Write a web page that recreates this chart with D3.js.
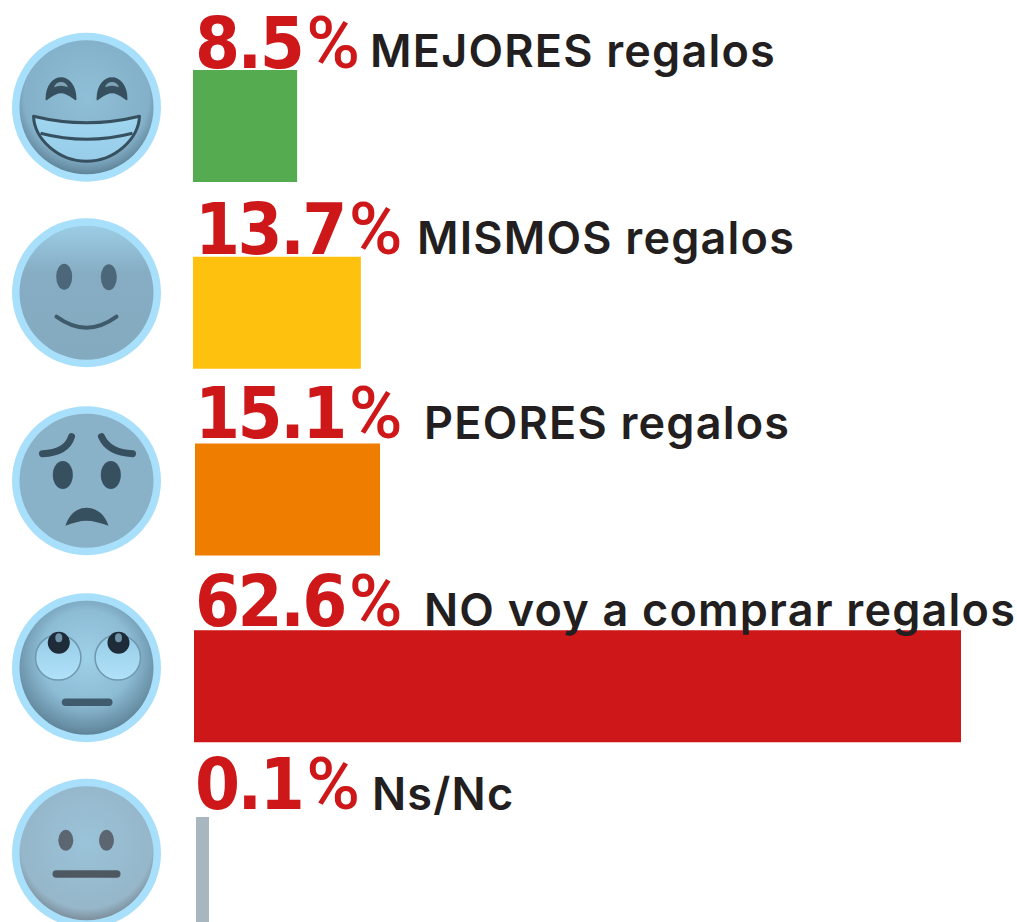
<!DOCTYPE html>
<html>
<head>
<meta charset="utf-8">
<script src="https://cdn.jsdelivr.net/npm/d3@7"></script>
<style>
html, body { margin: 0; padding: 0; background: #fff; overflow: hidden; }
</style>
</head>
<body>
<div id="chart"></div>
<script>
// Chart data
const categories = ["MEJORES regalos", "MISMOS regalos", "PEORES regalos", "NO voy a comprar regalos", "Ns/Nc"];
const values = [8.5, 13.7, 15.1, 62.6, 0.1];
const barColors = ["#55ab50", "#fec20e", "#ef7d00", "#cd1719", "#a8b6c0"];

// Set Dimensions
const xSize = 1017;
const ySize = 922;
const red = "#cd1719";
const ink = "#231f20";
const minBar = 13; // the 0.1 bar is drawn wider than its value in the original

// small per row offsets seen in the original
const barNudge = [0, 0, 2, 1, 3];
const labelX = [370, 417, 424, 424, 372];
const labelY = [67, 254, 439, 626, 810];
const textY = [68, 254, 438, 626, 809];

const svg = d3.select("#chart")
  .append("svg")
  .attr("width", xSize)
  .attr("height", ySize)
  .style("display", "block");

const x = d3.scaleLinear().domain([0, 62.6]).range([0, 767]);

// 5 bars of 112px, one every 186.75px, the last one runs off the page
const y = d3.scaleBand()
  .domain(categories)
  .range([70, 70 + 186.75 * 4 + 112])
  .paddingInner(1 - 112 / 186.75)
  .paddingOuter(0);

// Gradients for the faces
const defs = svg.append("defs");

function radial(id, stops) {
  const g = defs.append("radialGradient").attr("id", id)
    .attr("cx", "50%").attr("cy", "42%").attr("r", "58%");
  stops.forEach(s => g.append("stop").attr("offset", s[0]).attr("stop-color", s[1]));
}
function vertical(id, stops) {
  const g = defs.append("linearGradient").attr("id", id)
    .attr("x1", 0).attr("y1", 0).attr("x2", 0).attr("y2", 1);
  stops.forEach(s => g.append("stop").attr("offset", s[0]).attr("stop-color", s[1]));
}
radial("face1", [[0, "#8fbfd8"], [0.8, "#84b0c9"], [1, "#5f8499"]]);
vertical("face2", [[0, "#9ccde4"], [0.35, "#86adc4"], [1, "#84aabf"]]);
radial("face4", [[0, "#9ed0e8"], [0.6, "#8dbcd5"], [1, "#5f8499"]]);
radial("face5", [[0, "#9ac3d9"], [0.85, "#96b6c9"], [1, "#7c8f9b"]]);
vertical("eyeball", [[0, "#97cbe5"], [1, "#b0e2fa"]]);
vertical("teeth", [[0, "#9fd5ef"], [1, "#97cde8"]]);

const dark = "#37505f";

// Each face is drawn around its own centre
const faces = [
  g => {
    [-1, 1].forEach(s => {
      const a = s < 0 ? -40 : 11, b = s < 0 ? -11 : 40, m = (a + b) / 2;
      g.append("path")
        .attr("d", `M${a} -8 C${a} -36 ${b} -36 ${b} -8 C${b - 4} -11 ${m + 6} -15 ${m} -15 C${m - 6} -15 ${a + 4} -11 ${a} -8 Z`)
        .attr("fill", dark).attr("stroke", dark).attr("stroke-width", 2).attr("stroke-linejoin", "round");
      g.append("path")
        .attr("d", `M${m - 7} -20 C${m - 5} -27 ${m + 5} -27 ${m + 7} -20 Q${m} -23 ${m - 7} -20 Z`)
        .attr("fill", "#7fa3b6");
    });
    g.append("path")
      .attr("d", "M-53 9 Q0 22 53 9 C52 32 28 54 0 54 C-28 54 -52 32 -53 9 Z")
      .attr("fill", "url(#teeth)").attr("stroke", dark).attr("stroke-width", 3).attr("stroke-linejoin", "round");
    g.append("path")
      .attr("d", "M-46 26 Q0 38 46 26")
      .attr("fill", "none").attr("stroke", dark).attr("stroke-width", 3);
  },
  g => {
    [[-22.3, -16], [22.3, -15.5]].forEach(p => {
      g.append("ellipse").attr("cx", p[0]).attr("cy", p[1]).attr("rx", 8).attr("ry", 13).attr("fill", "#4b6779");
    });
    g.append("path")
      .attr("d", "M-30 24 Q0 46 30 24")
      .attr("fill", "none").attr("stroke", "#3f5a6b").attr("stroke-width", 4).attr("stroke-linecap", "round");
  },
  g => {
    g.append("path").attr("d", "M-15 -44 Q-20 -28 -44 -27")
      .attr("fill", "none").attr("stroke", dark).attr("stroke-width", 7).attr("stroke-linecap", "round");
    g.append("path").attr("d", "M15 -44 Q22 -28 46 -27")
      .attr("fill", "none").attr("stroke", dark).attr("stroke-width", 7).attr("stroke-linecap", "round");
    [-23.7, 24.3].forEach(cx => {
      g.append("ellipse").attr("cx", cx).attr("cy", -5.7).attr("rx", 10).attr("ry", 14).attr("fill", dark);
    });
    g.append("path").attr("d", "M-21 45 C-17 32 -8 27 0 27 C8 27 18 32 22 45 C14 42 6 40 0 40 C-6 40 -14 42 -21 45 Z")
      .attr("fill", dark);
  },
  g => {
    [[-28.3, -27.7], [31.3, 32]].forEach(p => {
      g.append("circle").attr("cx", p[0]).attr("cy", -10.3).attr("r", 22.7)
        .attr("fill", "url(#eyeball)").attr("stroke", "#6f98ae").attr("stroke-width", 1.5);
      g.append("circle").attr("cx", p[1]).attr("cy", -25).attr("r", 11).attr("fill", "#1d2c38");
      g.append("ellipse").attr("cx", p[1]).attr("cy", -30).attr("rx", 3.5).attr("ry", 4.5).attr("fill", "#6f93a7");
    });
    g.append("rect").attr("x", -24.7).attr("y", 30.7).attr("width", 50.7).attr("height", 7.6).attr("rx", 3.8).attr("fill", "#3f5b6d");
  },
  g => {
    [-20.7, 20].forEach(cx => {
      g.append("ellipse").attr("cx", cx).attr("cy", -13).attr("rx", 7.5).attr("ry", 10.5).attr("fill", "#5b6670");
    });
    g.append("rect").attr("x", -34).attr("y", 17).attr("width", 68).attr("height", 7.4).attr("rx", 3.7).attr("fill", "#4d5860");
  }
];
const faceFill = ["url(#face1)", "url(#face2)", "#89b1c8", "url(#face4)", "url(#face5)"];
const faceY = [107.3, 292.7, 480.7, 667.7, 853.3];

// Faces
categories.forEach((c, i) => {
  const g = svg.append("g").attr("transform", "translate(86.5," + faceY[i] + ")");
  g.append("circle").attr("r", 74.5).attr("fill", "#a8dffa");
  g.append("circle").attr("r", 67).attr("fill", faceFill[i]);
  faces[i](g);
});

// Bars
svg.selectAll("rect.bar")
  .data(values)
  .enter()
  .append("rect")
  .attr("class", "bar")
  .attr("x", (d, i) => 193 + barNudge[i])
  .attr("y", (d, i) => y(categories[i]))
  .attr("width", d => Math.max(x(d), minBar))
  .attr("height", y.bandwidth())
  .attr("fill", (d, i) => barColors[i]);

// Percent labels
const pct = svg.selectAll("text.pct")
  .data(values)
  .enter()
  .append("text")
  .attr("class", "pct")
  .attr("x", 195)
  .attr("y", (d, i) => textY[i])
  .attr("fill", red)
  .style("font-family", "DejaVu Sans Condensed")
  .style("font-size", "72px")
  .style("font-weight", 700);
pct.append("tspan").style("letter-spacing", "-2.5px").text(d => d.toFixed(1));
pct.append("tspan")
  .attr("dx", 4)
  .style("font-family", "Roboto")
  .style("font-weight", 500)
  .style("font-size", "73px")
  .text("%");

// Category labels
svg.selectAll("text.cat")
  .data(categories)
  .enter()
  .append("text")
  .attr("class", "cat")
  .attr("x", (d, i) => labelX[i])
  .attr("y", (d, i) => labelY[i])
  .attr("fill", ink)
  .style("font-family", "Inter")
  .style("font-size", "45px")
  .style("font-weight", 600)
  .style("letter-spacing", "1.2px")
  .text(d => d);
</script>
</body>
</html>
